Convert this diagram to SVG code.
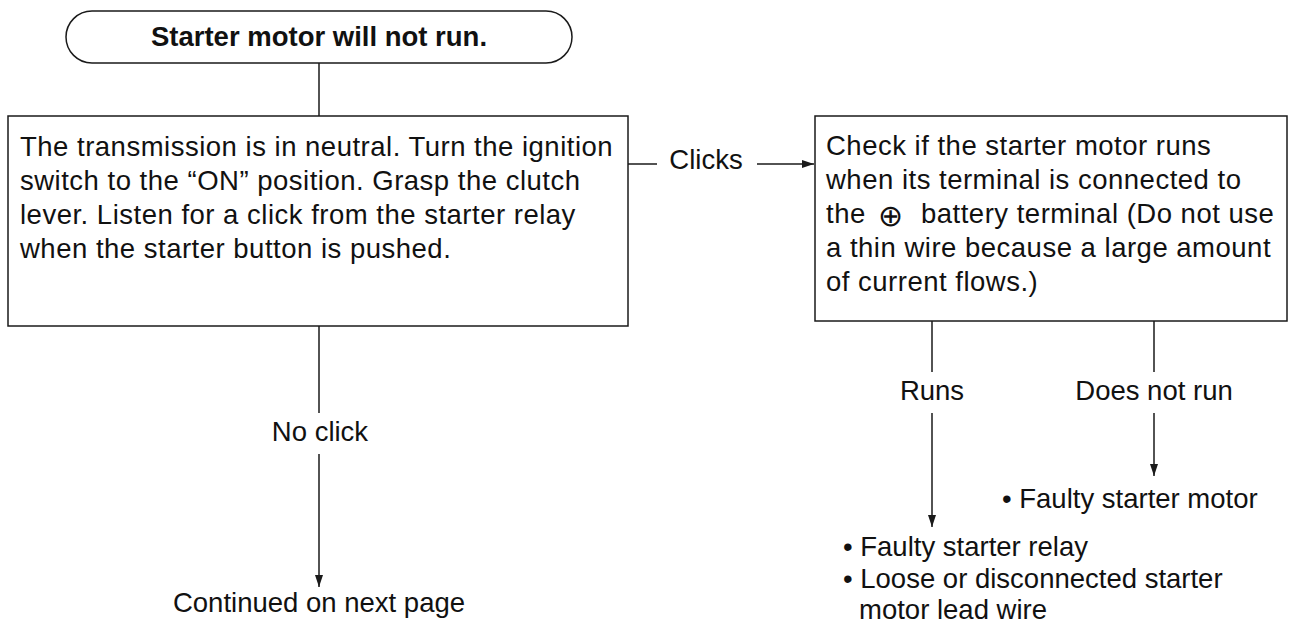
<svg xmlns="http://www.w3.org/2000/svg" width="1295" height="626" viewBox="0 0 1295 626">
<defs>
<style>
.box{fill:#fff;stroke:#1a1a1a;stroke-width:1.5}
.ln{fill:none;stroke:#1a1a1a;stroke-width:1.5}
text{font-family:"Liberation Sans",Arial,sans-serif;font-size:27.5px;fill:#111}
.t{letter-spacing:0.5px}
.b{font-weight:bold}
.m{text-anchor:middle}
.sym{font-family:"DejaVu Sans",sans-serif;font-size:30px;font-weight:200;text-anchor:middle}
</style>
<marker id="ah" viewBox="0 0 12 8" refX="12" refY="4" markerWidth="12" markerHeight="8" markerUnits="userSpaceOnUse" orient="auto">
<path d="M0,0 L12,4 L0,8 Z" fill="#1a1a1a"/>
</marker>
</defs>
<rect width="1295" height="626" fill="#fff"/>
<g id="connectors">
<line class="ln" x1="319" y1="63" x2="319" y2="116"/>
<line class="ln" x1="628" y1="164" x2="657" y2="164"/>
<line class="ln" x1="757" y1="164" x2="814" y2="164" marker-end="url(#ah)"/>
<line class="ln" x1="319" y1="326" x2="319" y2="413"/>
<line class="ln" x1="319" y1="454" x2="319" y2="587" marker-end="url(#ah)"/>
<line class="ln" x1="932" y1="321" x2="932" y2="372"/>
<line class="ln" x1="932" y1="413" x2="932" y2="527" marker-end="url(#ah)"/>
<line class="ln" x1="1154" y1="321" x2="1154" y2="372"/>
<line class="ln" x1="1154" y1="413" x2="1154" y2="476" marker-end="url(#ah)"/>
<text x="706" y="169" class="m">Clicks</text>
<text x="320" y="441" class="m">No click</text>
<text x="932" y="400" class="m">Runs</text>
<text x="1154" y="400" class="m">Does not run</text>
</g>
<g id="start">
<rect class="box" x="66" y="11" width="506" height="52" rx="26" ry="26"/>
<text x="319" y="46" class="b m">Starter motor will not run.</text>
</g>
<g id="check-click">
<rect class="box" x="8" y="116" width="620" height="210"/>
<text class="t" x="20" y="156">The transmission is in neutral. Turn the ignition</text>
<text class="t" x="20" y="190">switch to the “ON” position. Grasp the clutch</text>
<text class="t" x="20" y="224">lever. Listen for a click from the starter relay</text>
<text class="t" x="20" y="258">when the starter button is pushed.</text>
</g>
<g id="check-motor">
<rect class="box" x="815" y="116" width="472" height="205"/>
<text class="t" x="826" y="155">Check if the starter motor runs</text>
<text class="t" x="826" y="189">when its terminal is connected to</text>
<text class="t" x="826" y="223">the</text>
<text class="sym" x="890" y="226">⊕</text>
<text class="t" x="921" y="223">battery terminal (Do not use</text>
<text class="t" x="826" y="257">a thin wire because a large amount</text>
<text class="t" x="826" y="291">of current flows.)</text>
</g>
<g id="next-page">
<text x="319" y="612" class="m">Continued on next page</text>
</g>
<g id="faulty-motor">
<text x="1002" y="508">• Faulty starter motor</text>
</g>
<g id="faulty-relay">
<text x="843" y="556">• Faulty starter relay</text>
<text x="843" y="588">• Loose or disconnected starter</text>
<text x="859" y="619">motor lead wire</text>
</g>
</svg>
